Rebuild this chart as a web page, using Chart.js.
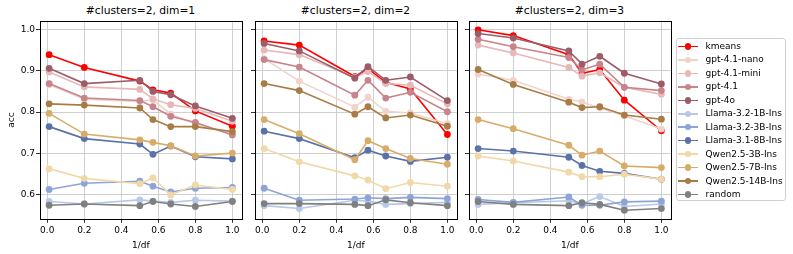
<!DOCTYPE html>
<html>
<head>
<meta charset="utf-8">
<script src="https://cdn.jsdelivr.net/npm/chart.js@4/dist/chart.umd.min.js"></script>
<style>
  html, body { margin: 0; padding: 0; background: #fff; }
  body { width: 793px; height: 254px; position: relative; overflow: hidden; font-family: "DejaVu Sans", sans-serif; }
  canvas { position: absolute; top: 0; }
  .title { position: absolute; top: 4px; width: 202px; text-align: center; font-size: 10.7px; line-height: 14px; color: #000; white-space: nowrap; }
  #legend { position: absolute; left: 675.5px; top: 38px; width: 110px; height: 163px; border: 1px solid #d0d0d0; border-radius: 3px; box-sizing: border-box; }
  #legend ul { list-style: none; margin: 0; padding: 0; }
  #legend li { position: absolute; left: 0; height: 13px; font-size: 9px; line-height: 13px; color: #000; white-space: nowrap; }
  #legend .line { position: absolute; left: 1.5px; top: 5.8px; width: 19.5px; height: 1.5px; }
  #legend .dot { position: absolute; left: 8px; top: 3.3px; width: 6.5px; height: 6.5px; border-radius: 50%; }
  #legend .txt { position: absolute; left: 29px; top: 0; }
</style>
</head>
<body>
<div class="title" style="left:39.5px">#clusters=2, dim=1</div>
<div class="title" style="left:254.5px">#clusters=2, dim=2</div>
<div class="title" style="left:468.5px">#clusters=2, dim=3</div>
<canvas id="c1"></canvas>
<canvas id="c2"></canvas>
<canvas id="c3"></canvas>
<div id="legend"><ul></ul></div>
<script>
// x = 1/df
const xValues = [0.01, 0.2, 0.5, 0.571, 0.667, 0.8, 1.0];
const xTicks = [0.0, 0.2, 0.4, 0.6, 0.8, 1.0];
const yTicks = [0.6, 0.7, 0.8, 0.9, 1.0];

const models = ["kmeans", "gpt-4.1-nano", "gpt-4.1-mini", "gpt-4.1", "gpt-4o",
    "Llama-3.2-1B-Ins", "Llama-3.2-3B-Ins", "Llama-3.1-8B-Ins",
    "Qwen2.5-3B-Ins", "Qwen2.5-7B-Ins", "Qwen2.5-14B-Ins", "random"];
const colors = ["#ff0000", "#f0d4cc", "#e6b8b8", "#c8848c", "#9c5c68",
    "#b8c8e8", "#8ca4d8", "#5a72a8", "#f0d8a8", "#d8ac68", "#a87c44", "#808080"];

// one row per panel: dim=1, dim=2, dim=3
const kmeans = [
    [0.939, 0.908, 0.875, 0.854, 0.846, 0.803, 0.766],
    [0.972, 0.962, 0.886, 0.905, 0.872, 0.856, 0.746],
    [0.999, 0.985, 0.939, 0.894, 0.903, 0.829, 0.755],
];
const gpt41nano = [
    [0.866, 0.831, 0.826, 0.830, 0.795, 0.772, 0.748],
    [0.929, 0.875, 0.812, 0.836, 0.802, 0.798, 0.772],
    [0.892, 0.877, 0.831, 0.825, 0.810, 0.791, 0.759],
];
const gpt41mini = [
    [0.897, 0.861, 0.855, 0.832, 0.818, 0.809, 0.778],
    [0.950, 0.939, 0.884, 0.898, 0.869, 0.865, 0.820],
    [0.962, 0.943, 0.908, 0.887, 0.895, 0.860, 0.843],
];
const gpt41 = [
    [0.869, 0.834, 0.828, 0.813, 0.790, 0.775, 0.745],
    [0.927, 0.909, 0.841, 0.877, 0.834, 0.848, 0.801],
    [0.976, 0.958, 0.932, 0.902, 0.916, 0.860, 0.852],
];
const gpt4o = [
    [0.906, 0.869, 0.877, 0.850, 0.842, 0.815, 0.785],
    [0.966, 0.948, 0.882, 0.910, 0.877, 0.885, 0.828],
    [0.990, 0.979, 0.948, 0.916, 0.935, 0.894, 0.868],
];
const llama1b = [
    [0.584, 0.578, 0.588, 0.585, 0.582, 0.587, 0.585],
    [0.574, 0.567, 0.587, 0.585, 0.577, 0.579, 0.582],
    [0.577, 0.581, 0.586, 0.579, 0.596, 0.572, 0.578],
];
const llama3b = [
    [0.613, 0.628, 0.633, 0.621, 0.607, 0.616, 0.618],
    [0.616, 0.587, 0.590, 0.593, 0.591, 0.594, 0.591],
    [0.589, 0.582, 0.595, 0.575, 0.575, 0.583, 0.585],
];
const llama8b = [
    [0.765, 0.736, 0.723, 0.698, 0.718, 0.692, 0.687],
    [0.754, 0.736, 0.690, 0.708, 0.694, 0.681, 0.691],
    [0.712, 0.706, 0.691, 0.671, 0.657, 0.652, 0.638],
];
const qwen3b = [
    [0.663, 0.640, 0.627, 0.641, 0.600, 0.624, 0.613],
    [0.712, 0.680, 0.646, 0.636, 0.615, 0.630, 0.621],
    [0.694, 0.682, 0.655, 0.644, 0.644, 0.650, 0.638],
];
const qwen7b = [
    [0.797, 0.747, 0.733, 0.727, 0.719, 0.694, 0.701],
    [0.782, 0.748, 0.685, 0.731, 0.712, 0.688, 0.674],
    [0.782, 0.760, 0.720, 0.696, 0.706, 0.670, 0.666],
];
const qwen14b = [
    [0.820, 0.817, 0.810, 0.782, 0.765, 0.765, 0.753],
    [0.869, 0.852, 0.795, 0.813, 0.786, 0.793, 0.766],
    [0.903, 0.867, 0.824, 0.811, 0.813, 0.793, 0.783],
];
const random = [
    [0.575, 0.578, 0.574, 0.584, 0.578, 0.572, 0.584],
    [0.579, 0.579, 0.577, 0.574, 0.588, 0.581, 0.574],
    [0.584, 0.577, 0.574, 0.581, 0.577, 0.563, 0.567],
];

const series = [kmeans, gpt41nano, gpt41mini, gpt41, gpt4o, llama1b, llama3b, llama8b,
    qwen3b, qwen7b, qwen14b, random];

const frame = {
    id: "frame",
    afterDatasetsDraw(chart) {
        const a = chart.chartArea;
        const ctx = chart.ctx;
        ctx.save();
        ctx.strokeStyle = "#000";
        ctx.lineWidth = 1;
        ctx.strokeRect(Math.round(a.left) + 0.5, Math.round(a.top) + 0.5,
            Math.round(a.right - a.left) - 1, Math.round(a.bottom - a.top) - 1);
        ctx.restore();
    },
};

function makePanel(id, panel, canvasLeft, yWidth, showY) {
    const canvas = document.getElementById(id);
    canvas.style.left = canvasLeft + "px";
    canvas.width = 252;
    canvas.height = 254;
    canvas.style.width = "252px";
    canvas.style.height = "254px";

    const datasets = series.map((s, i) => ({
        label: models[i],
        data: s[panel].map((v, j) => ({ x: xValues[j], y: v })),
        borderColor: colors[i],
        backgroundColor: colors[i],
        borderWidth: 1.6,
        pointRadius: 3.4,
        pointBorderWidth: 0,
        pointHoverRadius: 3.4,
        order: models.length - i,
    }));

    new Chart(canvas, {
        type: "line",
        data: { datasets },
        options: {
            responsive: false,
            animation: false,
            events: [],
            layout: { padding: { top: 20.7, right: 10, left: 0, bottom: 0 } },
            plugins: { legend: { display: false }, tooltip: { enabled: false } },
            scales: {
                x: {
                    type: "linear",
                    min: -0.042,
                    max: 1.052,
                    afterBuildTicks: (s) => { s.ticks = xTicks.map((v) => ({ value: v })); },
                    afterFit: (s) => { s.height = 34.7; },
                    ticks: {
                        color: "#000",
                        font: { family: "DejaVu Sans", size: 9 },
                        padding: 2.5,
                        maxRotation: 0,
                        autoSkip: false,
                        callback: (v) => v.toFixed(1),
                    },
                    grid: {
                        color: "#c4c4c4",
                        lineWidth: 0.8,
                        borderDash: [1.6, 1.6],
                        tickColor: "#000",
                        tickLength: 3.5,
                        tickWidth: 0.8,
                        tickBorderDash: [],
                    },
                    border: { display: false },
                    title: {
                        display: true,
                        text: "1/df",
                        color: "#000",
                        font: { family: "DejaVu Sans", size: 9 },
                        padding: { top: 0, bottom: 3 },
                    },
                },
                y: {
                    min: 0.541,
                    max: 1.021,
                    afterBuildTicks: (s) => { s.ticks = yTicks.map((v) => ({ value: v })); },
                    afterFit: (s) => { s.width = yWidth; },
                    ticks: {
                        display: showY,
                        color: "#000",
                        font: { family: "DejaVu Sans", size: 9 },
                        padding: 1,
                        callback: (v) => v.toFixed(1),
                    },
                    grid: {
                        color: "#c4c4c4",
                        lineWidth: 0.8,
                        borderDash: [1.6, 1.6],
                        tickColor: "#000",
                        tickLength: 3.5,
                        tickWidth: 0.8,
                        tickBorderDash: [],
                    },
                    border: { display: false },
                    title: {
                        display: showY,
                        text: "acc",
                        color: "#000",
                        font: { family: "DejaVu Sans", size: 9 },
                        padding: { top: 6.5, bottom: 0 },
                    },
                },
            },
        },
        plugins: [frame],
    });
}

makePanel("c1", 0, 0, 39.5, true);
makePanel("c2", 1, 215, 39.5, false);
makePanel("c3", 2, 429, 39.5, false);

// legend, same order as the series
const list = document.querySelector("#legend ul");
models.forEach((name, i) => {
    const li = document.createElement("li");
    li.style.top = (1 + 13.45 * i) + "px";
    const line = document.createElement("span");
    line.className = "line";
    line.style.background = colors[i];
    const dot = document.createElement("span");
    dot.className = "dot";
    dot.style.background = colors[i];
    const txt = document.createElement("span");
    txt.className = "txt";
    txt.textContent = name;
    li.appendChild(line);
    li.appendChild(dot);
    li.appendChild(txt);
    list.appendChild(li);
});
</script>
</body>
</html>
